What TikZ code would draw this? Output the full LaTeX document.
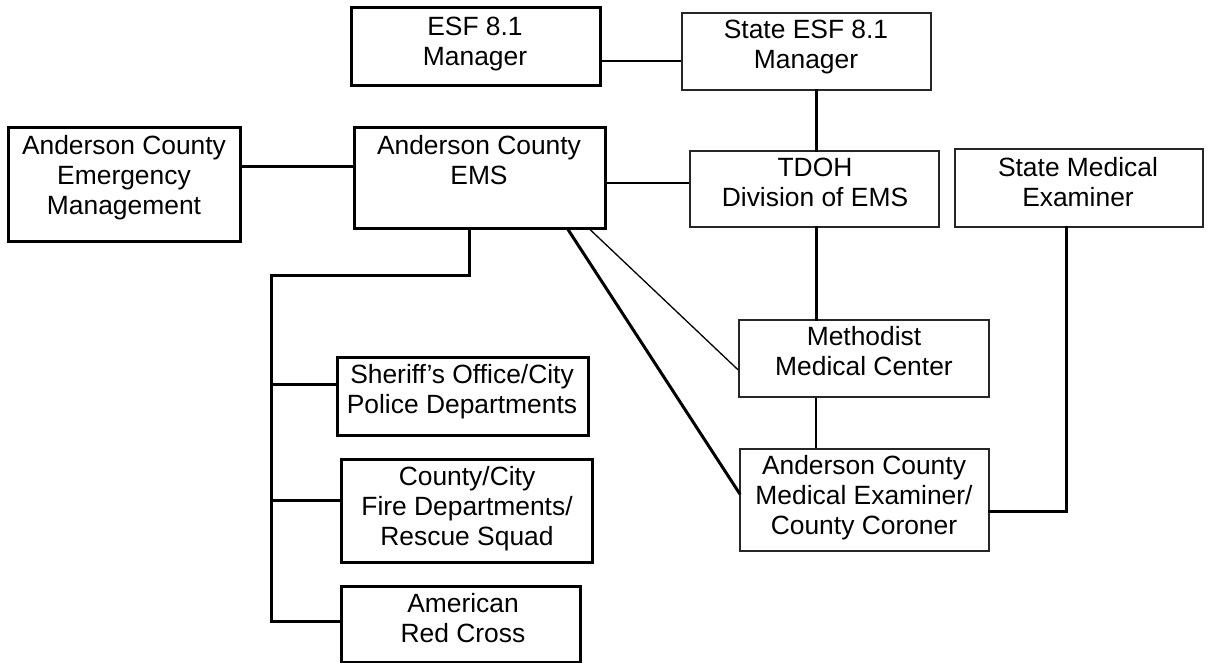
\documentclass[tikz,border=0pt]{standalone}
\usepackage{fontspec}
\setmainfont{Liberation Sans}
\begin{document}
\begin{tikzpicture}[x=1pt,y=-1pt,
  thickbox/.style={draw=black,line width=3pt,rectangle,inner sep=0pt,fill=none},
  thinbox/.style={draw=black!85,line width=1.5pt,rectangle,inner sep=0pt,fill=none},
  lbl/.style={anchor=north,inner sep=0pt,align=center,font=\fontsize{26.4pt}{30pt}\selectfont},
  thickl/.style={line width=3pt,line cap=rect,line join=miter},
  thinl/.style={line width=1.3pt},
  medl/.style={line width=1.9pt}]
\useasboundingbox (0,0) rectangle (1208,662);
\newcommand\fl{\rule{0pt}{20pt}}
% boxes
\node[thickbox,minimum width=249pt,minimum height=78pt] (esf) at (475.5,46) {};
\node[thinbox,minimum width=249pt,minimum height=77pt] (state) at (806.5,51.5) {};
\node[thickbox,minimum width=232pt,minimum height=114pt] (em) at (124,184) {};
\node[thickbox,minimum width=251pt,minimum height=101pt] (ems) at (479.5,177.5) {};
\node[thinbox,minimum width=249pt,minimum height=76pt] (tdoh) at (814.5,189) {};
\node[thinbox,minimum width=248pt,minimum height=78pt] (sme) at (1079,188) {};
\node[thinbox,minimum width=250pt,minimum height=77pt] (meth) at (864,358.5) {};
\node[thinbox,minimum width=249pt,minimum height=102pt] (acme) at (864.5,500) {};
\node[thickbox,minimum width=251pt,minimum height=78pt] (sher) at (462.5,396) {};
\node[thickbox,minimum width=251pt,minimum height=103pt] (fire) at (466.5,510.5) {};
\node[thickbox,minimum width=239pt,minimum height=76pt] (arc) at (460.5,624) {};
% labels
\node[lbl] (tesf) at (475,15) {\fl ESF 8.1\\Manager};
\node[lbl] (tstate) at (806,18) {\fl State ESF 8.1\\Manager};
\node[lbl] (tem) at (124,134) {\fl Anderson County\\Emergency\\Management};
\node[lbl] (tems) at (479,134) {\fl Anderson County\\EMS};
\node[lbl] (ttdoh) at (815,156) {\fl TDOH\\Division of EMS};
\node[lbl] (tsme) at (1078,156) {\fl State Medical\\Examiner};
\node[lbl] (tmeth) at (864,325) {\fl Methodist\\Medical Center};
\node[lbl] (tacme) at (864,454) {\fl Anderson County\\Medical Examiner/\\County Coroner};
\node[lbl] (tsher) at (462,363) {\fl Sheriff’s Office/City\\Police Departments};
\node[lbl] (tfire) at (467,465) {\fl County/City\\Fire Departments/\\Rescue Squad};
\node[lbl] (tarc) at (463,592) {\fl American\\Red Cross};
% connectors
\draw[thinl] ([yshift=-15pt]esf.east) -- ([yshift=-15pt]esf.east -| state.west);
\draw[thickl] ([xshift=9.5pt]state.south) -- ([xshift=9.5pt]state.south |- tdoh.north);
\draw[thickl] ([yshift=18pt]em.east) -- ([yshift=18pt]em.east -| ems.west);
\draw[medl] ([yshift=-5.5pt]ems.east) -- ([yshift=-5.5pt]ems.east -| tdoh.west);
\draw[thickl] ([xshift=1.5pt]tdoh.south) -- ([xshift=1.5pt]tdoh.south |- meth.north);
\draw[thinl] ([xshift=-48pt]meth.south) -- ([xshift=-48pt]meth.south |- acme.north);
\draw[thickl] ([xshift=-13pt]sme.south) |- ([yshift=-11pt]acme.east);
\draw[thinl] ([xshift=110.5pt]ems.south) -- ([yshift=-11.5pt]meth.west);
\draw[thickl] ([xshift=88.5pt]ems.south) -- ([yshift=7pt]acme.west);
\coordinate (bus) at (271,275);
\draw[thickl] ([xshift=-10.5pt]ems.south) |- (bus) |- ([yshift=3pt]arc.west);
\draw[thickl] ([yshift=12pt]sher.west -| bus) -- ([yshift=12pt]sher.west);
\draw[thickl] ([yshift=10.5pt]fire.west -| bus) -- ([yshift=10.5pt]fire.west);
\end{tikzpicture}
\end{document}
